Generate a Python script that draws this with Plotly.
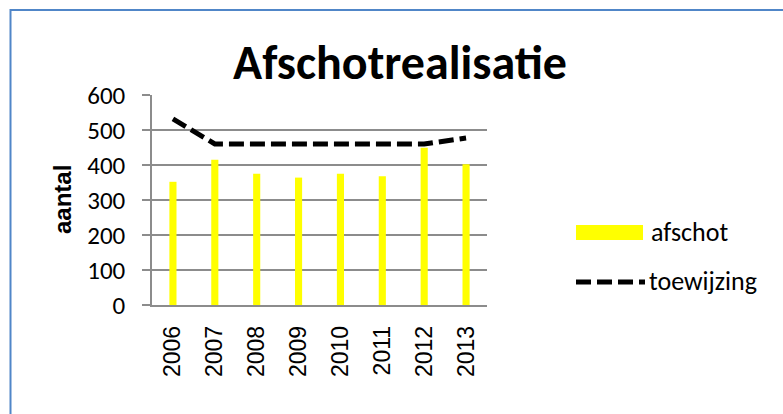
import plotly.graph_objects as go

years = ["2006", "2007", "2008", "2009", "2010", "2011", "2012", "2013"]
afschot = [352, 415, 375, 364, 375, 368, 449, 402]
toewijzing = [532, 460, 460, 460, 460, 460, 460, 477]
y_ticks = [0, 100, 200, 300, 400, 500, 600]

W, H = 783, 414
L, R, T, B = 152, 296, 95, 109
PW, PH = W - L - R, H - T - B


def px(x):
    return (x - L) / PW


def py(y):
    return (H - B - y) / PH


GRID = "#8c8c8c"
HUM = "Carlito, Calibri, Lato, sans-serif"
ARIAL = "Liberation Sans, Arial, sans-serif"
DASH = "15px,6px"

fig = go.Figure()
fig.add_trace(go.Bar(x=years, y=afschot, name="afschot", marker_color="#FFFF00",
                     marker_line_width=0))
fig.add_trace(go.Scatter(x=years, y=toewijzing, name="toewijzing", mode="lines",
                         line=dict(color="black", width=5, dash=DASH)))

shapes = [
    # chart border
    dict(type="rect", xref="paper", yref="paper", x0=px(10.5), y0=py(430), x1=px(800), y1=py(10),
         line=dict(color="#5086C8", width=2), fillcolor="rgba(0,0,0,0)", layer="below"),
    # legend swatches
    dict(type="rect", xref="paper", yref="paper", x0=px(576), x1=px(643), y0=py(240), y1=py(225),
         line=dict(width=0), fillcolor="#FFFF00"),
    dict(type="line", xref="paper", yref="paper", x0=px(576), x1=px(645), y0=py(282), y1=py(282),
         line=dict(color="black", width=5, dash=DASH)),
]

annotations = [
    dict(text="afschot", xref="paper", yref="paper", x=px(649), y=py(232), xanchor="left",
         yanchor="middle", showarrow=False, font=dict(family=HUM, size=26, color="black")),
    dict(text="toewijzing", xref="paper", yref="paper", x=px(647), y=py(281), xanchor="left",
         yanchor="middle", showarrow=False, font=dict(family=HUM, size=26, color="black")),
    # y-axis title
    dict(text="<b>aantal</b>", xref="paper", yref="paper", x=px(62), y=py(200), textangle=-90,
         xanchor="center", yanchor="middle", showarrow=False,
         font=dict(family=ARIAL, size=24, color="black")),
]

fig.update_layout(
    width=W, height=H,
    margin=dict(l=L, r=R, t=T, b=B, autoexpand=False),
    paper_bgcolor="white", plot_bgcolor="white",
    showlegend=False,
    bargap=0.83,
    title=dict(text="<b>Afschotrealisatie</b>", x=px(400), xref="paper", xanchor="center",
               y=1 - 62 / H, yref="container", yanchor="middle",
               font=dict(family=HUM, size=48, color="black")),
    shapes=shapes,
    annotations=annotations,
    xaxis=dict(type="category", showgrid=False, showline=True, linecolor=GRID, linewidth=1.5,
               ticks="", tickangle=-90, ticklabelstandoff=10,
               tickfont=dict(family=ARIAL, size=23, color="black")),
    yaxis=dict(range=[0, 600], tickvals=y_ticks, showgrid=True, gridcolor=GRID, gridwidth=1.5,
               showline=True, linecolor=GRID, linewidth=1.5, ticks="outside", ticklen=8,
               tickcolor=GRID, tickwidth=1.5, ticklabelstandoff=12, zeroline=False,
               tickfont=dict(family=HUM, size=25, color="black")),
)

fig.write_html("out.html", config={"displayModeBar": False},
               post_script="document.body.style.margin='0';document.body.style.overflow='hidden';")
